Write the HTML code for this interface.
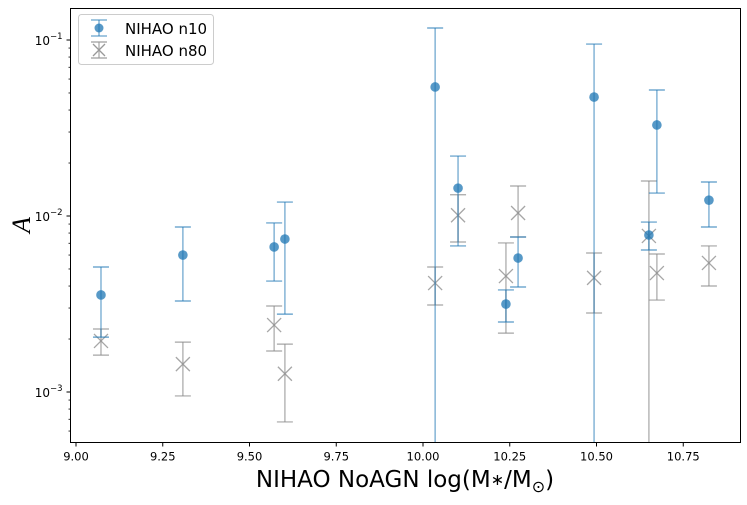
<!DOCTYPE html>
<html><head><meta charset="utf-8"><style>
body{margin:0;background:#fff;}
svg text{font-family:"DejaVu Sans","Liberation Sans",sans-serif;}
</style></head><body>
<svg id="chart" width="747" height="500" xmlns="http://www.w3.org/2000/svg">
<rect x="0" y="0" width="747" height="500" fill="#fff"/>
<g id="plot"></g>
<rect x="70.5" y="8.5" width="670" height="434" fill="none" stroke="#000" stroke-width="1"/>
<text x="405" y="487" font-size="23" text-anchor="middle">NIHAO NoAGN log(M<tspan font-size="16" dy="-2">∗</tspan><tspan dy="2">/M</tspan><tspan font-size="16" dy="5">⊙</tspan><tspan dy="-5">)</tspan></text>
<text transform="translate(30,225) rotate(-90)" font-size="26" font-style="italic" text-anchor="middle" style="font-family:'Liberation Serif',serif">A</text>
<g>
<rect x="78.5" y="14.5" width="135" height="50" rx="3" fill="#fff" stroke="#ccc"/>
<line x1="99" y1="20" x2="99" y2="36" stroke="#1f77b4" stroke-opacity="0.55" stroke-width="1.5"/>
<line x1="91" y1="20" x2="107" y2="20" stroke="#1f77b4" stroke-opacity="0.7" stroke-width="1.2"/>
<line x1="91" y1="36" x2="107" y2="36" stroke="#1f77b4" stroke-opacity="0.7" stroke-width="1.2"/>
<circle cx="99" cy="28" r="4.5" fill="#1f77b4" fill-opacity="0.75"/>
<text x="125" y="34" font-size="15">NIHAO n10</text>
<line x1="99" y1="42" x2="99" y2="58" stroke="#999" stroke-opacity="0.7" stroke-width="1.5"/>
<line x1="91" y1="42" x2="107" y2="42" stroke="#999" stroke-width="1.2"/>
<line x1="91" y1="58" x2="107" y2="58" stroke="#999" stroke-width="1.2"/>
<path d="M93 44 L105 56 M105 44 L93 56" stroke="#999" stroke-width="1.3"/>
<text x="125" y="56" font-size="15">NIHAO n80</text>
</g>
</svg>
<script>
const n10X=[9.072,9.308,9.571,9.602,10.035,10.101,10.239,10.274,10.493,10.651,10.674,10.824];
const n10Y=[3.56e-3,6.0e-3,6.67e-3,7.40e-3,5.41e-2,1.44e-2,3.16e-3,5.77e-3,4.74e-2,7.80e-3,3.29e-2,1.23e-2];
const n10Hi=[5.13e-3,8.66e-3,9.13e-3,1.20e-2,0.117,2.19e-2,3.80e-3,7.60e-3,9.48e-2,9.24e-3,5.2e-2,1.56e-2];
const n10Lo=[2.05e-3,3.29e-3,4.27e-3,2.77e-3,1e-5,6.76e-3,2.50e-3,3.95e-3,1e-5,6.41e-3,1.35e-2,8.66e-3];
const n80X=[9.072,9.308,9.571,9.602,10.035,10.101,10.239,10.274,10.493,10.651,10.674,10.824];
const n80Y=[1.95e-3,1.44e-3,2.40e-3,1.27e-3,4.16e-3,1.01e-2,4.56e-3,1.04e-2,4.45e-3,7.7e-3,4.74e-3,5.41e-3];
const n80Hi=[2.28e-3,1.92e-3,3.08e-3,1.87e-3,5.13e-3,1.32e-2,7.03e-3,1.48e-2,6.16e-3,1.58e-2,6.08e-3,6.76e-3];
const n80Lo=[1.62e-3,9.5e-4,1.71e-3,6.76e-4,3.12e-3,7.12e-3,2.16e-3,7.6e-3,2.81e-3,1e-5,3.33e-3,4.0e-3];
const xTicks=[9.0,9.25,9.5,9.75,10.0,10.25,10.5,10.75];
const xTickLabels=["9.00","9.25","9.50","9.75","10.00","10.25","10.50","10.75"];
const yTicks=[-3,-2,-1];

const L=70.5,R=740.5,T=8.5,B=442.5;
function sx(v){return 76+(v-9)*347;}
function sy(v){return 216-(Math.log10(v)+2)*176;}
function cy(y){return Math.max(T,Math.min(B,y));}
const NS="http://www.w3.org/2000/svg";
const plot=document.getElementById('plot');
const svg=document.getElementById('chart');
function mk(tag,attrs,parent){const e=document.createElementNS(NS,tag);for(const k in attrs)e.setAttribute(k,attrs[k]);(parent||plot).appendChild(e);return e;}

xTicks.forEach((t,i)=>{
  const x=sx(t);
  mk('line',{x1:x,y1:B,x2:x,y2:B+4,stroke:'#000'},svg);
  const tx=mk('text',{x:x,y:B+18,'font-size':11.5,'text-anchor':'middle'},svg);
  tx.textContent=xTickLabels[i];
  
  
});
yTicks.forEach(p=>{
  const y=sy(Math.pow(10,p));
  mk('line',{x1:L-4,y1:y,x2:L,y2:y,stroke:'#000'},svg);
  const tx=mk('text',{x:L-8,y:y+5,'font-size':12,'text-anchor':'end'},svg);
  tx.innerHTML='10<tspan font-size="8.5" dy="-6">−'+(-p)+'</tspan>';
  
  
});
for(let p=-4;p<=-1;p++){for(let m=2;m<=9;m++){const y=sy(m*Math.pow(10,p));if(y>T&&y<B)mk('line',{x1:L-2,y1:y,x2:L,y2:y,stroke:'#000','stroke-width':0.8},svg);}}

function series(X,Y,Hi,Lo,color,name,isX){
  X.forEach((xv,i)=>{
    const x=sx(xv),yh=sy(Hi[i]),yl=sy(Lo[i]),y=sy(Y[i]);
    const g=mk('g',{});
    
    
    mk('line',{x1:x,y1:cy(yh),x2:x,y2:cy(yl),stroke:color,'stroke-opacity':isX?0.6:0.55,'stroke-width':1.5},g);
    if(yh>=T)mk('line',{x1:x-8,y1:yh,x2:x+8,y2:yh,stroke:color,'stroke-opacity':0.75,'stroke-width':1.2},g);
    if(yl<=B)mk('line',{x1:x-8,y1:yl,x2:x+8,y2:yl,stroke:color,'stroke-opacity':0.75,'stroke-width':1.2},g);
    if(isX)mk('path',{d:`M${x-7} ${y-7}L${x+7} ${y+7}M${x+7} ${y-7}L${x-7} ${y+7}`,stroke:color,'stroke-opacity':0.75,'stroke-width':1.3},g);
    else mk('circle',{cx:x,cy:y,r:4.8,fill:color,'fill-opacity':0.75},g);
  });
}
series(n80X,n80Y,n80Hi,n80Lo,'#888','n80',true);
series(n10X,n10Y,n10Hi,n10Lo,'#1f77b4','n10',false);
</script>
</body></html>
